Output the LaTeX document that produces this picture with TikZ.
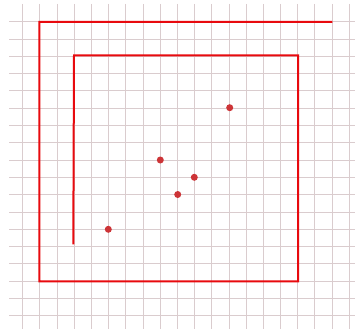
\documentclass[tikz,border=0pt]{standalone}
\definecolor{gridc}{RGB}{218,204,206}
\definecolor{linec}{RGB}{232,10,14}
\definecolor{dotc}{RGB}{205,52,55}
\tikzset{
  gridline/.style={draw=gridc, line width=0.9pt},
  spiral/.style={draw=linec, line width=2pt, line join=miter},
  dotmark/.style={circle, fill=dotc, inner sep=0pt, minimum size=7pt}
}
\begin{document}
\begin{tikzpicture}[x=1pt,y=-1pt]
\useasboundingbox (0,0) rectangle (355,329);
\fill[white] (0,0) rectangle (355,329);
% grid
\foreach \k in {0,...,19}{
  \path[gridline] ({22.7+17.19*\k},4) -- ({22.7+17.19*\k},329);
}
\foreach \j in {0,...,17}{
  \path[gridline] (9,{21.7+17.3*\j}) -- (355,{21.7+17.3*\j});
}
% spiral
\coordinate (s0) at (332.3,22);
\coordinate (s1) at (39.3,22);
\coordinate (s2) at (39.3,281.3);
\coordinate (s3) at (298,281.3);
\coordinate (s4) at (298,55.3);
\coordinate (s5) at (74,55.3);
\coordinate (s6) at (73.3,244.3);
\path[spiral] (s0) -- (s1) -- (s2) -- (s3) -- (s4) -- (s5) -- (s6);
% dots
\node[dotmark] (d1) at (229.7,107.7) {};
\node[dotmark] (d2) at (160.3,160) {};
\node[dotmark] (d3) at (194.3,177.3) {};
\node[dotmark] (d4) at (177.7,194.5) {};
\node[dotmark] (d5) at (108.3,229.3) {};
\end{tikzpicture}
\end{document}
